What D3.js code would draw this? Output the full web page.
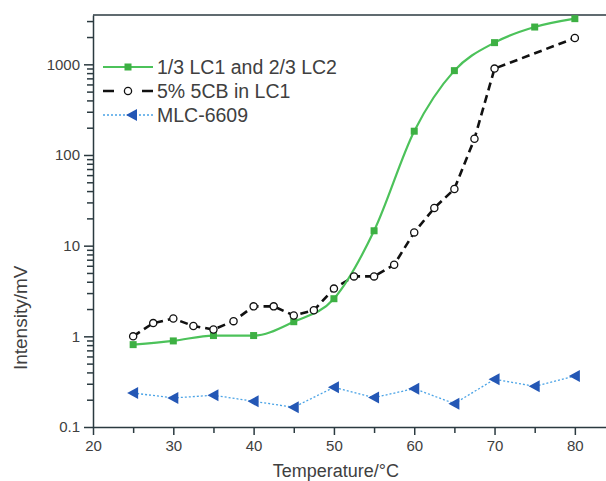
<!DOCTYPE html>
<meta charset="utf-8">
<head>
    <title>Intensity vs Temperature</title>
    <script type="text/javascript" src="https://d3js.org/d3.v7.min.js"></script>
    <style>
        body { margin: 0; background: #fff; }
        text { font-family: Arial, "Liberation Sans", sans-serif; fill: #404040; }
    </style>
</head>
<body>
    <div id="chart"></div>

    <script>
        // data
        var seriesNames = ["1/3 LC1 and 2/3 LC2", "5% 5CB in LC1", "MLC-6609"];

        var greenTemps = [25, 30, 35, 40, 45, 50, 55, 60, 65, 70, 75, 80];
        var greenValues = [0.81, 0.89, 1.02, 1.02, 1.45, 2.6, 14.6, 183, 852, 1735, 2578, 3190];

        var circleTemps = [25, 27.5, 30, 32.5, 35, 37.5, 40, 42.5, 45, 47.5, 50, 52.5, 55, 57.5, 60, 62.5, 65, 67.5, 70, 80];
        var circleValues = [1.0, 1.4, 1.57, 1.3, 1.19, 1.47, 2.14, 2.14, 1.7, 1.94, 3.36, 4.58, 4.58, 6.17, 14.0, 26.0, 42.2, 151, 897, 1950];

        var blueTemps = [25, 30, 35, 40, 45, 50, 55, 60, 65, 70, 75, 80];
        var blueValues = [0.237, 0.209, 0.224, 0.192, 0.165, 0.274, 0.211, 0.265, 0.181, 0.336, 0.281, 0.365];

        var xTicks = [20, 30, 40, 50, 60, 70, 80];
        var xMinorTicks = [25, 35, 45, 55, 65, 75];
        var yTicks = [0.1, 1, 10, 100, 1000];

        // dimensions
        var width = 606;
        var height = 481;
        var margin = { top: 15, left: 93, bottom: 54, right: -9 };
        var innerW = width - margin.left - margin.right;
        var innerH = height - margin.top - margin.bottom;

        var svg = d3.select("#chart").append("svg")
                    .attr("width", width)
                    .attr("height", height);

        var x = d3.scaleLinear().domain([20, 85]).range([margin.left, margin.left + innerW]);
        var y = d3.scaleLog().domain([0.1, 3500]).range([margin.top + innerH, margin.top]);

        var axisColor = "#2b3a40";

        // minor y ticks: 2..9 of every decade
        var yMinor = [];
        yTicks.forEach(function(d) {
            for (var k = 2; k <= 9; k++) {
                if (d * k <= 3500) yMinor.push(d * k);
            }
        });

        // top frame line
        svg.append("line")
           .attr("x1", x(20)).attr("x2", x(85))
           .attr("y1", y(3500)).attr("y2", y(3500))
           .attr("stroke", axisColor).attr("stroke-width", 1.5);

        // y axis
        var yAxisG = svg.append("g")
            .attr("transform", `translate(${margin.left},0)`)
            .call(d3.axisLeft(y).tickValues(yTicks).tickSize(9).tickSizeOuter(0)
                    .tickFormat(function(d) { return String(d); }));
        svg.append("g")
            .attr("transform", `translate(${margin.left},0)`)
            .call(d3.axisLeft(y).tickValues(yMinor).tickSize(6).tickSizeOuter(0).tickFormat(""))
            .select(".domain").remove();

        // x axis
        var xAxisG = svg.append("g")
            .attr("transform", `translate(0,${margin.top + innerH})`)
            .call(d3.axisBottom(x).tickValues(xTicks).tickSize(8).tickSizeOuter(0));
        svg.append("g")
            .attr("transform", `translate(0,${margin.top + innerH})`)
            .call(d3.axisBottom(x).tickValues(xMinorTicks).tickSize(6).tickSizeOuter(0).tickFormat(""))
            .select(".domain").remove();

        svg.selectAll(".domain, .tick line")
           .attr("stroke", axisColor).attr("stroke-width", 1.5);
        yAxisG.selectAll("text").attr("font-size", "15px").attr("fill", "#404040").attr("x", -13);
        xAxisG.selectAll("text").attr("font-size", "15px").attr("fill", "#404040").attr("y", 13);

        // axis titles
        svg.append("text")
           .attr("x", x(50) + 2).attr("y", 477)
           .attr("text-anchor", "middle")
           .attr("font-size", "18px")
           .text("Temperature/\u00B0C");

        svg.append("text")
           .attr("transform", "translate(27," + y(1.6) + ") rotate(-90)")
           .attr("text-anchor", "middle")
           .attr("font-size", "19px")
           .text("Intensity/mV");

        var plot = svg.append("g");

        // MLC-6609 (blue dotted, left triangles)
        var triPath = "M-6,0L5,-6L5,6Z";
        var blueData = blueTemps.map(function(t, i) { return [t, blueValues[i]]; });
        plot.append("path")
            .datum(blueData)
            .attr("fill", "none")
            .attr("stroke", "#4aa3e6")
            .attr("stroke-width", 1.3)
            .attr("stroke-dasharray", "2,2")
            .attr("d", d3.line().x(function(d) { return x(d[0]); }).y(function(d) { return y(d[1]); }));
        plot.selectAll(".tri")
            .data(blueData)
            .enter().append("path")
            .attr("class", "tri")
            .attr("transform", function(d) { return `translate(${x(d[0])},${y(d[1])})`; })
            .attr("d", triPath)
            .attr("fill", "#2457b5");

        // 5% 5CB in LC1 (black dashed, open circles)
        var circleData = circleTemps.map(function(t, i) { return [t, circleValues[i]]; });
        plot.append("path")
            .datum(circleData)
            .attr("fill", "none")
            .attr("stroke", "#111")
            .attr("stroke-width", 2.6)
            .attr("stroke-dasharray", "8,5")
            .attr("d", d3.line().x(function(d) { return x(d[0]); }).y(function(d) { return y(d[1]); }));

        // 1/3 LC1 and 2/3 LC2 (green smooth line, squares)
        var greenData = greenTemps.map(function(t, i) { return [t, greenValues[i]]; });
        plot.append("path")
            .datum(greenData)
            .attr("fill", "none")
            .attr("stroke", "#4cc25a")
            .attr("stroke-width", 2.2)
            .attr("d", d3.line().curve(d3.curveMonotoneX)
                        .x(function(d) { return x(d[0]); }).y(function(d) { return y(d[1]); }));
        plot.selectAll(".sq")
            .data(greenData)
            .enter().append("rect")
            .attr("class", "sq")
            .attr("x", function(d) { return x(d[0]) - 3.5; })
            .attr("y", function(d) { return y(d[1]) - 3.5; })
            .attr("width", 7).attr("height", 7)
            .attr("fill", "#3db043");

        plot.selectAll(".circ")
            .data(circleData)
            .enter().append("circle")
            .attr("class", "circ")
            .attr("cx", function(d) { return x(d[0]); })
            .attr("cy", function(d) { return y(d[1]); })
            .attr("r", 3.6)
            .attr("fill", "#fff")
            .attr("stroke", "#111")
            .attr("stroke-width", 1.3);

        // legend
        var legend = svg.append("g").attr("transform", "translate(103,67)");
        var rowGap = 24;

        legend.append("line").attr("x1", 0).attr("x2", 50).attr("y1", 0).attr("y2", 0)
              .attr("stroke", "#4cc25a").attr("stroke-width", 2.2);
        legend.append("rect").attr("x", 21.5).attr("y", -3.5).attr("width", 7).attr("height", 7)
              .attr("fill", "#3db043");

        legend.append("line").attr("x1", 0).attr("x2", 50).attr("y1", rowGap).attr("y2", rowGap)
              .attr("stroke", "#111").attr("stroke-width", 2.6).attr("stroke-dasharray", "11,28");
        legend.append("circle").attr("cx", 25).attr("cy", rowGap).attr("r", 3.6)
              .attr("fill", "#fff").attr("stroke", "#111").attr("stroke-width", 1.3);

        legend.append("line").attr("x1", 0).attr("x2", 50).attr("y1", rowGap * 2).attr("y2", rowGap * 2)
              .attr("stroke", "#4aa3e6").attr("stroke-width", 1.3).attr("stroke-dasharray", "2,2");
        legend.append("path").attr("transform", `translate(29,${rowGap * 2})`)
              .attr("d", triPath).attr("fill", "#2457b5");

        legend.selectAll(".lt")
              .data(seriesNames)
              .enter().append("text")
              .attr("class", "lt")
              .attr("x", 54)
              .attr("y", function(d, i) { return i * rowGap; })
              .attr("dy", "0.35em")
              .attr("font-size", "19.5px")
              .text(function(d) { return d; });
    </script>
</body>
</html>
